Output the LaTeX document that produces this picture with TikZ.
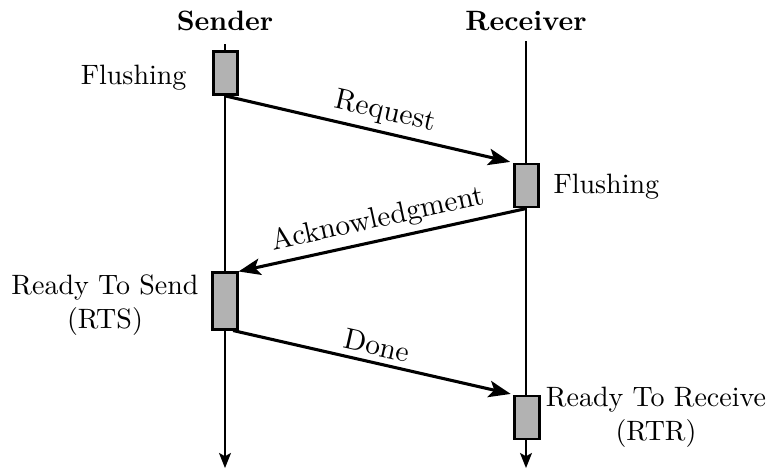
\documentclass[tikz,border=0pt]{standalone}
\usetikzlibrary{arrows.meta,calc}
\begin{document}
\begin{tikzpicture}[x=0.35714pt, y=-0.35714pt,
  lifeline/.style={line width=0.47pt, -{Stealth[length=5.4pt, width=4.3pt, inset=1.2pt]}},
  actbox/.style={draw, line width=1pt, fill=black!30, minimum width=8.7pt,
                 minimum height=15.4pt, inner sep=0pt},
  longbox/.style={actbox, minimum height=20.1pt},
  msg/.style={line width=1.1pt, -{Stealth[length=7.8pt, width=5.9pt, inset=1.8pt]}},
  msglabel/.style={sloped, above, inner sep=2pt, font=\fontsize{10.5}{12.6}\selectfont},
  lbl/.style={inner sep=0pt}]
\useasboundingbox (0,0) rectangle (767,469);

% participants
\node[lbl, anchor=base] (sender) at (225,30) {\bfseries Sender};
\node[lbl, anchor=base] (receiver) at (526,30) {\bfseries Receiver};

% lifelines
\coordinate (stop) at (225,44);
\coordinate (sbot) at (225,468);
\coordinate (rtop) at (526,41);
\coordinate (rbot) at (526,468);
\draw[lifeline] (stop) -- (sbot);
\draw[lifeline] (rtop) -- (rbot);

% activation boxes
\node[actbox]  (s1) at (225.5,73) {};
\node[actbox]  (r1) at (526.5,185.5) {};
\node[longbox] (s2) at (225,301) {};
\node[actbox]  (r2) at (527,417.5) {};

% state labels (multi-line nodes sit on the baseline of their last line)
\node[lbl, anchor=base east] (flushS) at (187,84) {Flushing};
\node[lbl, anchor=base west] (flushR) at (553,193) {Flushing};
\node[lbl, anchor=base, align=center] (rts) at (105,328.5) {Ready To Send\\(RTS)};
\node[lbl, anchor=base, align=center] (rtr) at (656,440) {Ready To Receive\\(RTR)};

% messages
\draw[msg, shorten >=1pt] (s1.south) -- node[msglabel, pos=0.54] {Request} (r1.north west);
\draw[msg] (r1.south) -- node[msglabel] {Acknowledgment} (s2.north east);
\coordinate (donestart) at ($(s2.south)!0.6!(s2.south east)$);
\draw[msg, shorten >=1pt] (donestart) -- node[msglabel] {Done} (r2.north west);
\end{tikzpicture}
\end{document}
